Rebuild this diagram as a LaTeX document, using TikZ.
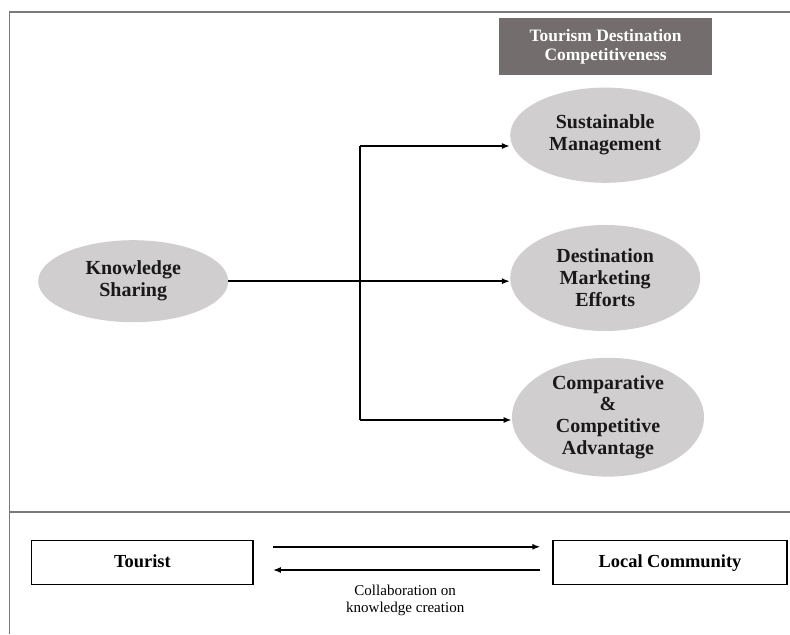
\documentclass[tikz,border=0pt]{standalone}
\usepackage{fontspec}
\setmainfont{Liberation Serif}
\usepackage{tikz}
\usetikzlibrary{arrows.meta,shapes.geometric}

\definecolor{headgray}{HTML}{736E6D}
\definecolor{ovalgray}{HTML}{D0CECF}
\definecolor{framegray}{HTML}{7A7A7A}

\begin{document}
\begin{tikzpicture}[
    >={Latex[length=2mm,width=1.5mm]},
    oval/.style={ellipse, fill=ovalgray, text=black!90, align=center, inner sep=0pt, font=\bfseries\fontsize{14.2}{15.6}\selectfont},
    head/.style={fill=headgray, text=white, align=center, inner sep=0pt, font=\bfseries\fontsize{12.4}{13.6}\selectfont},
    box/.style={draw, line width=0.9pt, align=center, inner sep=0pt, minimum width=5.5cm, minimum height=1.1cm, text height=1.8ex, text depth=0.3ex, font=\bfseries\fontsize{13.1}{15}\selectfont},
    link/.style={line width=1.2pt},
    frame/.style={draw=framegray, line width=1.2pt}
  ]
    \useasboundingbox (0,0) rectangle (19.75,-15.85);

    % Frame
    \draw[frame] (19.75,-0.3) -- (0.24,-0.3) -- (0.24,-15.85);
    \draw[frame] (0.24,-12.8) -- (19.75,-12.8);

    % Upper part: destination competitiveness
    \node[head, minimum width=5.33cm, minimum height=1.43cm] (tdc) at (15.14,-1.16) {Tourism Destination\\Competitiveness};
    \node[oval, minimum width=4.75cm, minimum height=2.05cm] (ks) at (3.33,-7.03) {Knowledge\\Sharing};
    \node[oval, minimum width=4.75cm, minimum height=2.38cm] (sm) at (15.13,-3.38) {Sustainable\\Management};
    \node[oval, minimum width=4.75cm, minimum height=2.65cm] (dm) at (15.13,-6.95) {Destination\\Marketing\\Efforts};
    \node[oval, minimum width=4.8cm, minimum height=2.68cm] (ca) at (15.2,-10.43) {Comparative\\\&\\Competitive\\Advantage};

    % Connections
    \coordinate (jt) at (9.0,-3.65);
    \coordinate (jb) at (9.0,-10.5);
    \draw[link] (jt) -- (jb);
    \draw[link, ->] (ks.east) -- (ks.east -| dm.west);
    \draw[link, ->] (jt) -- (jt -| sm.west);
    \draw[link, ->] (jb) -- (jb -| ca.west);

    % Lower part: collaboration
    \node[box, minimum width=5.53cm] (tour) at (3.56,-14.07) {Tourist};
    \node[box, minimum width=5.85cm] (loc) at (16.75,-14.07) {Local Community};
    \draw[link, ->] ([shift={(0.48,0.4)}]tour.east) -- ([shift={(-0.3,0.4)}]loc.west);
    \draw[link, ->] ([shift={(-0.3,-0.18)}]loc.west) -- ([shift={(0.48,-0.18)}]tour.east);
    \node[align=center, font=\fontsize{10.7}{12}\selectfont] (collab) at (10.13,-15.02) {Collaboration on\\knowledge creation};
  \end{tikzpicture}
\end{document}
